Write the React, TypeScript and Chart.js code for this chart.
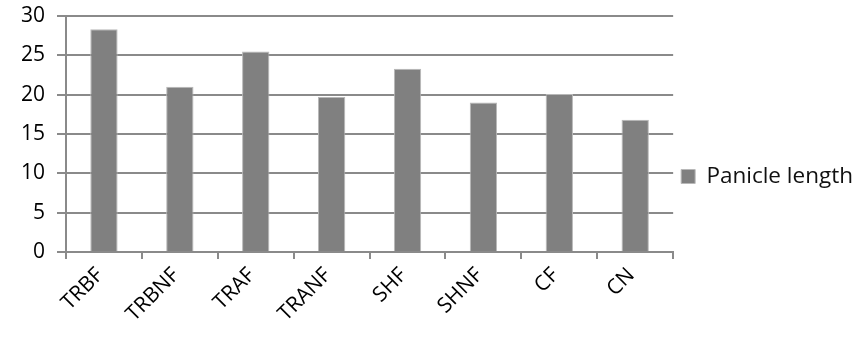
import React, { useEffect, useRef } from "react";
import { Chart, registerables } from "chart.js";

Chart.register(...registerables);

const categories = ["TRBF", "TRBNF", "TRAF", "TRANF", "SHF", "SHNF", "CF", "CN"];
const panicleLength = [28.3, 21.0, 25.5, 19.7, 23.3, 19.0, 20.1, 16.8];
const seriesLabel = "Panicle length";

export default function App() {
  const ref = useRef<HTMLCanvasElement | null>(null);
  useEffect(() => {
    document.body.style.margin = "0";
    const ctx = ref.current!.getContext("2d")!;
    const chart = new Chart(ctx, {
      type: "bar",
      data: {
        labels: categories,
        datasets: [
          {
            label: seriesLabel,
            data: panicleLength,
            backgroundColor: "#808080",
            borderColor: "#b8b8b8",
            borderWidth: 1,
            barPercentage: 0.36,
            categoryPercentage: 1,
          },
        ],
      },
      options: {
        responsive: false,
        animation: false,
        layout: { padding: { left: 0, top: 16, right: -3, bottom: 0 } },
        plugins: {
          legend: {
            position: "right",
            labels: {
              boxWidth: 14,
              boxHeight: 14,
              color: "#111",
              font: { family: "'Open Sans'", size: 22.5 },
              padding: 8,
            },
          },
          tooltip: { enabled: false },
        },
        scales: {
          x: {
            afterFit: (s: any) => {
              s.height = 85;
              s.paddingLeft = 0;
              s.paddingRight = 0;
            },
            grid: {
              drawOnChartArea: false,
              drawTicks: true,
              tickLength: 7,
              color: "#8a8a8a",
              lineWidth: 2,
            },
            border: { color: "#8a8a8a", width: 2 },
            ticks: {
              color: "#000",
              font: { family: "'Open Sans'", size: 21 },
              maxRotation: 45,
              minRotation: 45,
              padding: 4,
              labelOffset: -4,
            },
          },
          y: {
            afterFit: (s: any) => {
              s.width = 66;
              s.paddingTop = 0;
              s.paddingBottom = 0;
            },
            min: 0,
            max: 30,
            grid: {
              color: "#8a8a8a",
              lineWidth: 2,
              tickLength: 9,
            },
            border: { color: "#8a8a8a", width: 2 },
            ticks: {
              stepSize: 5,
              color: "#000",
              font: { family: "'Open Sans'", size: 21 },
              padding: 12,
            },
          },
        },
      },
    });
    return () => chart.destroy();
  }, []);
  return (
    <div style={{ width: 860, height: 337 }}>
      <canvas ref={ref} width={860} height={337} />
    </div>
  );
}
